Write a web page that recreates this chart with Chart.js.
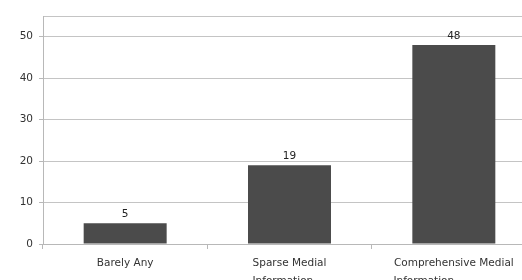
<!DOCTYPE html>
<html>
<head>
<meta charset="utf-8">
<script src="https://cdn.jsdelivr.net/npm/chart.js@4/dist/chart.umd.min.js"></script>
<style>
  html, body { margin: 0; padding: 0; background: #fff; overflow: hidden; }
  #wrap { width: 522px; height: 280px; overflow: hidden; }
</style>
</head>
<body>
<div id="wrap"><canvas id="chart" width="545" height="280"></canvas></div>
<script>
  // donnees
  const categories = [
    ["Barely Any"],
    ["Sparse Medial", "Information    "],
    ["Comprehensive Medial", "Information                  "]
  ];
  const valeurs = [5, 19, 48];

  const gris = "#b8b8b8";
  const texte = "#333333";

  // affiche la valeur au-dessus de chaque barre
  const etiquettes = {
    id: "etiquettes",
    afterDatasetsDraw(chart) {
      const ctx = chart.ctx;
      const meta = chart.getDatasetMeta(0);
      ctx.save();
      ctx.font = "10.5px 'DejaVu Sans'";
      ctx.fillStyle = "#222";
      ctx.textAlign = "center";
      ctx.textBaseline = "alphabetic";
      meta.data.forEach((bar, i) => {
        ctx.fillText(String(valeurs[i]), bar.x, bar.y - 6);
      });
      ctx.restore();
    }
  };

  const ctx = document.getElementById("chart").getContext("2d");
  new Chart(ctx, {
    type: "bar",
    data: {
      labels: categories,
      datasets: [
        {
          data: valeurs,
          backgroundColor: "#4b4b4b",
          borderWidth: 0,
          categoryPercentage: 1,
          barPercentage: 0.505
        }
      ]
    },
    options: {
      responsive: false,
      animation: false,
      devicePixelRatio: 1,
      layout: { padding: { top: 16, right: 9, left: 0, bottom: 0 } },
      plugins: {
        legend: { display: false },
        tooltip: { enabled: false }
      },
      scales: {
        x: {
          offset: true,
          grid: {
            offset: true,
            drawOnChartArea: false,
            color: gris,
            tickLength: 5
          },
          border: { color: gris },
          ticks: {
            color: texte,
            padding: 5,
            maxRotation: 0,
            font: { family: "DejaVu Sans", size: 10.5, lineHeight: 1.75 }
          },
          afterFit(scale) { scale.height = 36; }
        },
        y: {
          min: 0,
          max: 55,
          grid: {
            color: "#c4c4c4",
            tickColor: (c) => (c.tick && c.tick.value === 55 ? "rgba(0,0,0,0)" : gris),
            tickLength: 4
          },
          border: { color: gris },
          ticks: {
            stepSize: 10,
            color: texte,
            padding: 6,
            font: { family: "DejaVu Sans", size: 10.5 },
            callback: (v) => (v % 10 === 0 ? v : "")
          },
          afterFit(scale) { scale.width = 43; }
        }
      }
    },
    plugins: [etiquettes]
  });
</script>
</body>
</html>
